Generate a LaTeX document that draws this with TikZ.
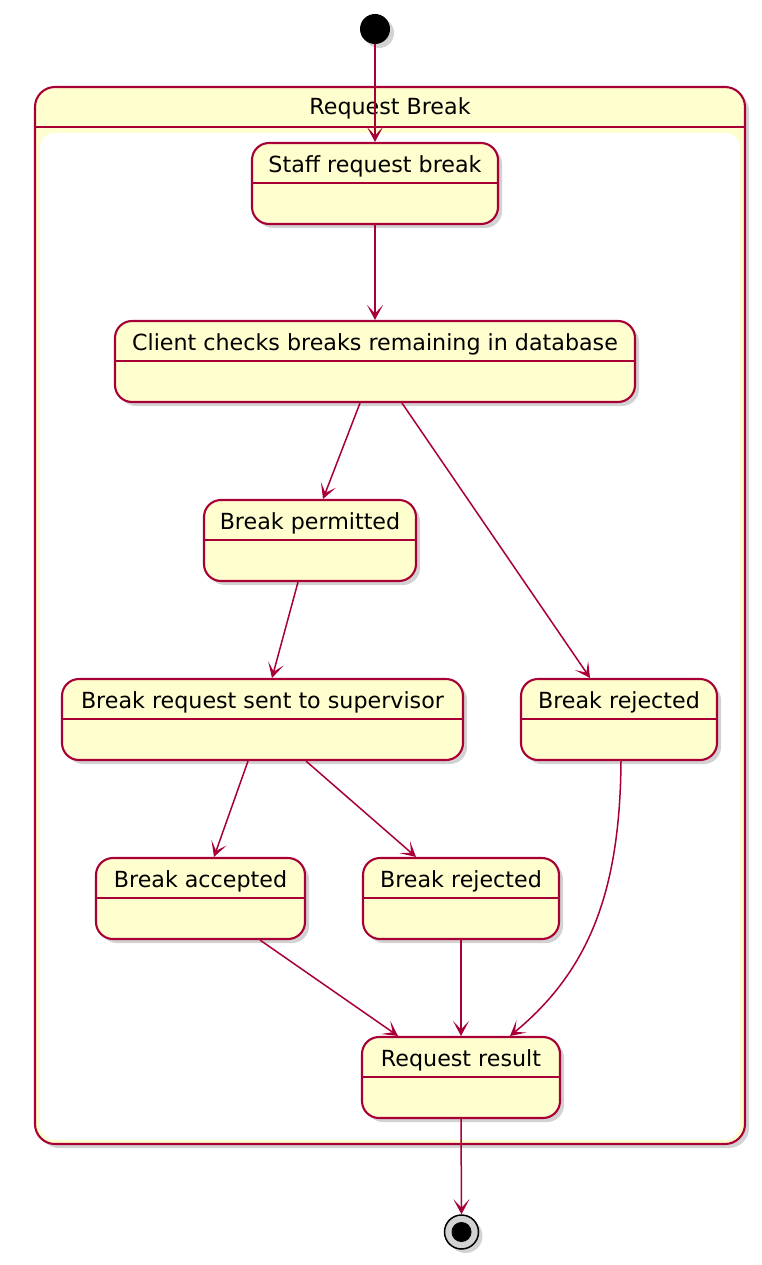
\documentclass[tikz,border=0pt]{standalone}
\usepackage{fontspec}
\setmainfont{DejaVu Sans}
\usetikzlibrary{arrows.meta,shadows}
\definecolor{bord}{HTML}{A80036}
\definecolor{fillc}{HTML}{FEFECE}
\tikzset{
  shade3/.style={drop shadow={shadow xshift=4pt,shadow yshift=-4pt,opacity=0.35}},
  statebox/.style={draw=bord,line width=2.1pt,fill=fillc,rounded corners=17pt,
    minimum height=81pt,inner sep=0pt,shade3},
  divline/.style={draw=bord,line width=2.1pt},
  lbl/.style={anchor=base,inner sep=0pt,font=\fontsize{22.2}{26}\selectfont},
  conn/.style={draw=bord,line width=1.5pt,-{Stealth[length=15pt,width=16pt,inset=8.5pt]}},
}
\newcommand{\mkstate}[5]{%
  \node[statebox,minimum width=#4] (#1) at (#2,#3) {};
  \draw[divline] ([yshift=-41pt]#1.north west) -- ([yshift=-41pt]#1.north east);
  \node[lbl] at ([yshift=-30.5pt]#1.north) {#5};}
\begin{document}
\begin{tikzpicture}[x=1pt,y=-1pt]
\useasboundingbox (0,0) rectangle (762,1265);
% composite
\node[draw=bord,line width=2.1pt,fill=fillc,rounded corners=20pt,minimum width=710pt,
  minimum height=1057pt,inner sep=0pt,shade3] (rb) at (390,615.5) {};
\fill[white,rounded corners=15pt] ([shift={(6pt,-47pt)}]rb.north west) rectangle ([shift={(-6pt,5pt)}]rb.south east);
\draw[divline] ([yshift=-41pt]rb.north west) -- ([yshift=-41pt]rb.north east);
\node[lbl] (rbt) at ([yshift=-28.5pt]rb.north) {Request Break};
% start
\node[circle,fill=black,minimum size=30pt,inner sep=0pt,shade3] (start) at (375,29) {};
% states
\mkstate{staff}{375}{183.5}{246pt}{Staff request break}
\mkstate{client}{375}{361.5}{520pt}{Client checks breaks remaining in database}
\mkstate{perm}{310}{540.5}{212pt}{Break permitted}
\mkstate{sent}{262.5}{719.5}{401pt}{Break request sent to supervisor}
\mkstate{rejr}{619}{719.5}{196pt}{Break rejected}
\mkstate{acc}{200.5}{898.5}{209pt}{Break accepted}
\mkstate{rejm}{461}{898.5}{196pt}{Break rejected}
\mkstate{res}{461}{1077.5}{198pt}{Request result}
% end
\node[circle,draw=black,line width=1.5pt,fill=gray!35,minimum size=34pt,inner sep=0pt,shade3] (end) at (461.5,1232) {};
\fill[black] (end.center) circle (10pt);
% connectors
\draw[conn] (start.south) -- (staff.north);
\draw[conn] (staff.south) -- (client.north);
\draw[conn] ([xshift=-15pt]client.south) -- ([xshift=13pt]perm.north);
\draw[conn] ([xshift=27pt]client.south) -- ([xshift=-29pt]rejr.north);
\draw[conn] ([xshift=-12pt]perm.south) -- ([xshift=9.5pt]sent.north);
\draw[conn] ([xshift=-14.5pt]sent.south) -- ([xshift=13.5pt]acc.north);
\draw[conn] ([xshift=43.5pt]sent.south) -- ([xshift=-45pt]rejm.north);
\draw[conn] ([xshift=59.5pt]acc.south) -- ([xshift=-63pt]res.north);
\draw[conn] (rejm.south) -- (res.north);
\draw[conn] ([xshift=2pt]rejr.south) .. controls (620,890) and (590,970) .. ([xshift=49pt]res.north);
\draw[conn] (res.south) -- (end.north);
\end{tikzpicture}
\end{document}
